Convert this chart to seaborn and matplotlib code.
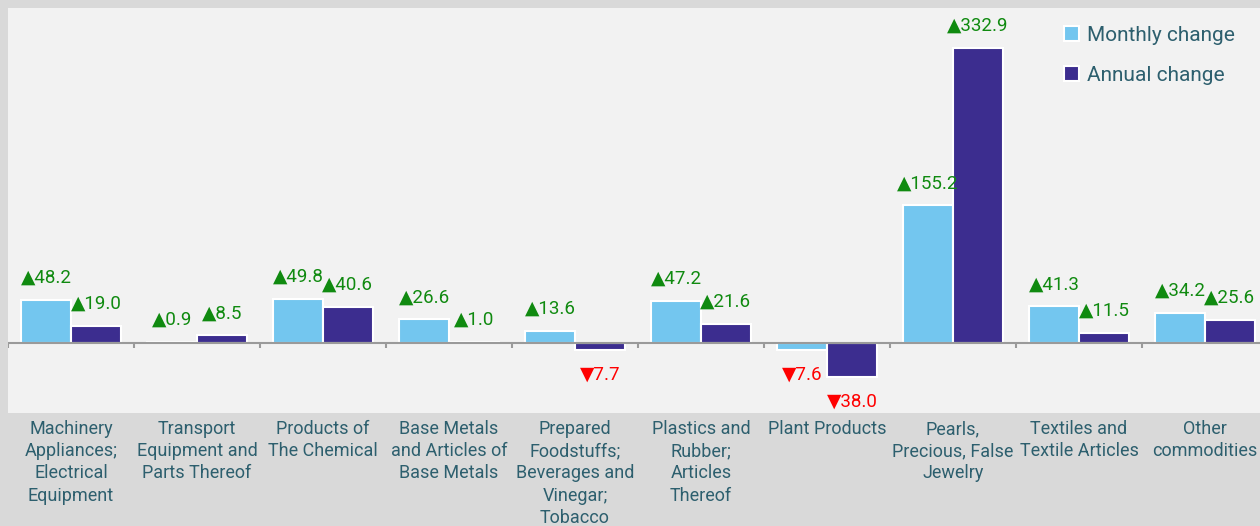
import pandas as pd
import numpy as np
import matplotlib.pyplot as plt
import seaborn as sns

# --- DATA ---
categories = [
    "Machinery\nAppliances;\nElectrical\nEquipment",
    "Transport\nEquipment and\nParts Thereof",
    "Products of\nThe Chemical",
    "Base Metals\nand Articles of\nBase Metals",
    "Prepared\nFoodstuffs;\nBeverages and\nVinegar;\nTobacco",
    "Plastics and\nRubber;\nArticles\nThereof",
    "Plant Products",
    "Pearls,\nPrecious, False\nJewelry",
    "Textiles and\nTextile Articles",
    "Other\ncommodities",
]
monthly_change = [48.2, 0.9, 49.8, 26.6, 13.6, 47.2, -7.6, 155.2, 41.3, 34.2]
annual_change = [19.0, 8.5, 40.6, 1.0, -7.7, 21.6, -38.0, 332.9, 11.5, 25.6]
series_names = ["Monthly change", "Annual change"]

df = pd.DataFrame({
    "category": categories * 2,
    "value": monthly_change + annual_change,
    "series": [series_names[0]] * len(categories) + [series_names[1]] * len(categories),
})

# --- STYLE ---
sns.set_theme(style="white")
plt.rcParams['font.family'] = ['Roboto', 'DejaVu Sans']

OUTER_BG = "#d9d9d9"
PLOT_BG = "#f2f2f2"
TEXT_COL = "#2d5f6e"
palette = {series_names[0]: "#73c6ef", series_names[1]: "#3c2d8f"}

fig = plt.figure(figsize=(12.6, 5.26), dpi=100, facecolor=OUTER_BG)
ax = fig.add_axes([8 / 1260, 113 / 526, 1260 / 1260, 405 / 526])
ax.set_facecolor(PLOT_BG)

sns.barplot(data=df, x="category", y="value", hue="series", palette=palette,
            saturation=1, width=0.79, edgecolor="white", linewidth=1.5, ax=ax)

ax.set_ylim(-79, 378)
ax.set_xlim(-0.5, len(categories) - 0.5)
for s in ax.spines.values():
    s.set_visible(False)

# zero line with boundary ticks
ax.axhline(0, color="#9a9a9a", lw=1.5, zorder=1)
bounds = np.arange(len(categories) + 1) - 0.5
ax.vlines(bounds, -6, 0, color="#9a9a9a", lw=1.5, zorder=1)

ax.set_yticks([])
ax.set_xlabel("")
ax.set_ylabel("")
ax.tick_params(axis="x", length=0, pad=5)
for lbl in ax.get_xticklabels():
    lbl.set_fontsize(13)
    lbl.set_color(TEXT_COL)
    lbl.set_horizontalalignment("center")
    lbl.set_verticalalignment("top")
    lbl.set_linespacing(1.3)

# value labels
for cont in ax.containers:
    for bar in cont:
        h = bar.get_height()
        xc = bar.get_x() + bar.get_width() / 2
        if h >= 0:
            txt, col, off = f"\u25b2{abs(h):.1f}", "#108a10", 16
        else:
            txt, col, off = f"\u25bc{abs(h):.1f}", "#ff0000", -18
        ax.annotate(txt, (xc, h), xytext=(0, off), textcoords="offset points",
                    ha="center", va="center", fontsize=13.5, color=col)

# legend
ax.legend(loc="upper right", bbox_to_anchor=(1254 / 1260, 1 - 7 / 526),
          bbox_transform=fig.transFigure, frameon=False, fontsize=15,
          labelcolor=TEXT_COL, handlelength=0.7, handleheight=0.7,
          handletextpad=0.4, labelspacing=1.0)

fig.savefig("out.png", dpi=100, facecolor=OUTER_BG)
